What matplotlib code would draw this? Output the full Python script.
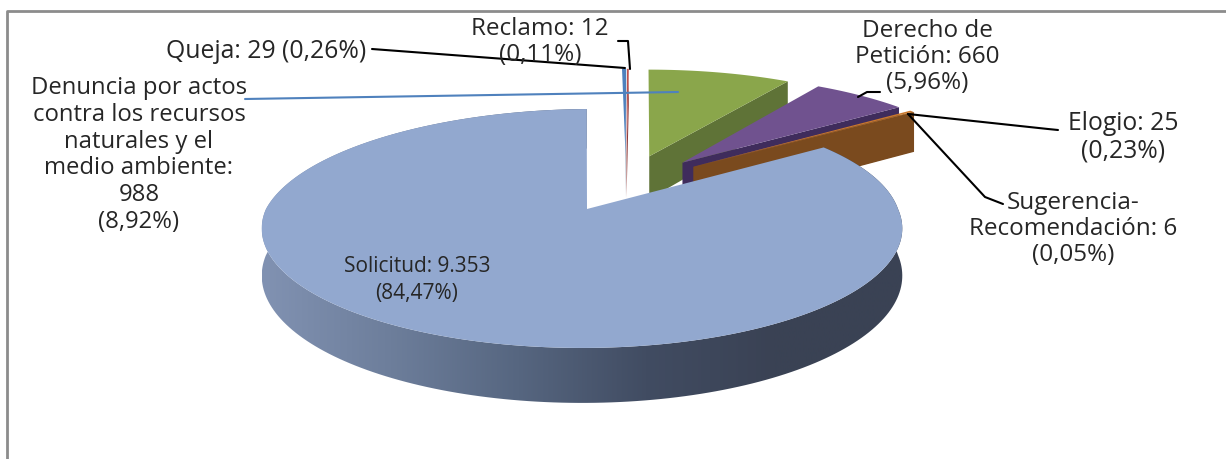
import numpy as np
import matplotlib
matplotlib.use('Agg')
import matplotlib.pyplot as plt
from matplotlib.colors import LinearSegmentedColormap
from matplotlib.patches import Polygon

# clockwise from 12 o'clock, as in the original sheet
categories = ['Denuncia', 'Derecho de Petición', 'Elogio', 'Sugerencia-Recomendación',
              'Solicitud', 'Queja', 'Reclamo']
counts = [988, 660, 25, 6, 9353, 29, 12]
top_colors = ['#8aa64b', '#70528f', '#c9772c', '#d98a35', '#92a8cf', '#4f81bd', '#c0504d']
wall_colors = ['#5f7337', '#3f2c5c', '#7a4a1e', '#7a4a1e', '#5d6d8a', '#34587f', '#8f3a38']

labels = [
    'Denuncia por actos\ncontra los recursos\nnaturales y el\nmedio ambiente:\n988\n(8,92%)',
    'Derecho de\nPetición: 660\n(5,96%)',
    'Elogio: 25\n(0,23%)',
    'Sugerencia-\nRecomendación: 6\n(0,05%)',
    'Solicitud: 9.353\n(84,47%)',
    'Queja: 29 (0,26%)',
    'Reclamo: 12\n(0,11%)',
]
label_xy = [(139, 155), (927, 57), (1123, 137), (1073, 229), (417, 280), (266, 51), (540, 42)]
label_sizes = [17.2, 17.5, 17.8, 17.5, 15, 17.8, 17.5]

leaders = [
    ([245, 678], [100, 93], '#4f81bd'),
    ([372, 625], [50, 69], 'black'),
    ([618, 628, 630], [42, 42, 70], 'black'),
    ([858, 867, 880], [98, 93, 93], 'black'),
    ([908, 1048, 1058], [115, 130, 131], 'black'),
    ([908, 985, 1003], [115, 198, 205], 'black'),
]

# perspective of the pie plane, in pixels of the 1226x460 picture
CX, CY = 587, 210
RX, RY = 316, 116.3
RX_SLICE = 319
K = 0.163
DEPTH = 46
EXPLODE = 0.275
OFFSET = (0.123, 0.225)
SHEAR = 7
MAIN_RIM_SHIFT = -5
MAIN = categories.index('Solicitud')
DRAW_ORDER = [5, 6, 0, 1, 2, 3, 4]


def project(u, v, rx=RX_SLICE, shear=SHEAR):
    w = 1 + K * v
    return CX + rx * u / w + shear * v, CY - RY * v / w


def drop(v):
    return DEPTH / (1 + K * v)


def slice_geometry(start, end, index):
    """Disk coordinates of the apex and the rim of one exploded slice"""
    mid = np.radians((start + end) / 2)
    ou = OFFSET[0] + EXPLODE * np.sin(mid)
    ov = OFFSET[1] + EXPLODE * np.cos(mid)
    if index == MAIN:
        ou, ov = 0, 0
    t = np.radians(np.linspace(start, end, 240))
    return ou, ov, ou + np.sin(t), ov + np.cos(t)


fig = plt.figure(figsize=(12.26, 4.6), dpi=100)
ax = fig.add_axes([0, 0, 1, 1])
ax.axis('off')

# frame: only top and left survive in the crop
ax.plot([7, 7, 1226], [460, 12, 12], color='#8c8c8c', lw=2, zorder=1)

fractions = np.array(counts) / sum(counts)
edges = np.concatenate([[0], np.cumsum(fractions) * 360])

for i in DRAW_ORDER:
    start, end = edges[i], edges[i + 1]
    ou, ov, ru, rv = slice_geometry(start, end, i)
    z = 3 + 0.1 * DRAW_ORDER.index(i)

    if i == MAIN:
        rim_x, rim_y = project(ru, rv, RX, 0)
        # the big slice sits a bit left of its apex, back corner stays upright
        rim_x = rim_x + MAIN_RIM_SHIFT + 11 * np.maximum(rv, 0)
        ax_x, ax_y = project(ou, ov, RX, 0)
        # outer wall with the left-to-right shading of the reference
        front = rim_y + drop(rv)
        wall = np.column_stack([np.r_[rim_x, rim_x[::-1]], np.r_[rim_y, front[::-1]]])
        patch = Polygon(wall, closed=True, fc='none', ec='none', zorder=z)
        ax.add_patch(patch)
        shade = LinearSegmentedColormap.from_list(
            'wall', ['#8192b2', '#6d7e9b', '#566680', '#414c62', '#3a4254', '#3a4254'])
        img = ax.imshow(np.linspace(0, 1, 256).reshape(1, -1), cmap=shade, aspect='auto',
                        extent=[rim_x.min(), rim_x.max(), 460, 0], zorder=z)
        img.set_clip_path(patch)
    else:
        rim_x, rim_y = project(ru, rv)
        ax_x, ax_y = project(ou, ov)
        # radial wall on the clockwise side
        wall = [(ax_x, ax_y), (rim_x[-1], rim_y[-1]),
                (rim_x[-1], rim_y[-1] + drop(rv[-1])), (ax_x, ax_y + drop(ov))]
        ax.add_patch(Polygon(wall, closed=True, fc=wall_colors[i], ec='none', zorder=z))

    top = np.column_stack([np.r_[ax_x, rim_x], np.r_[ax_y, rim_y]])
    ax.add_patch(Polygon(top, closed=True, fc=top_colors[i], ec='none', zorder=z + 0.05))

for xs, ys, color in leaders:
    ax.plot(xs, ys, color=color, lw=1.5, zorder=6, solid_capstyle='round')

for text, (x, y), size in zip(labels, label_xy, label_sizes):
    ax.text(x, y, text, ha='center', va='center', family='Open Sans', fontsize=size,
            color='#262626', linespacing=26 / (size * 100 / 72) / 0.95, zorder=7)

ax.set_xlim(0, 1226)
ax.set_ylim(460, 0)

fig.savefig('out.png', dpi=100, facecolor='white')
